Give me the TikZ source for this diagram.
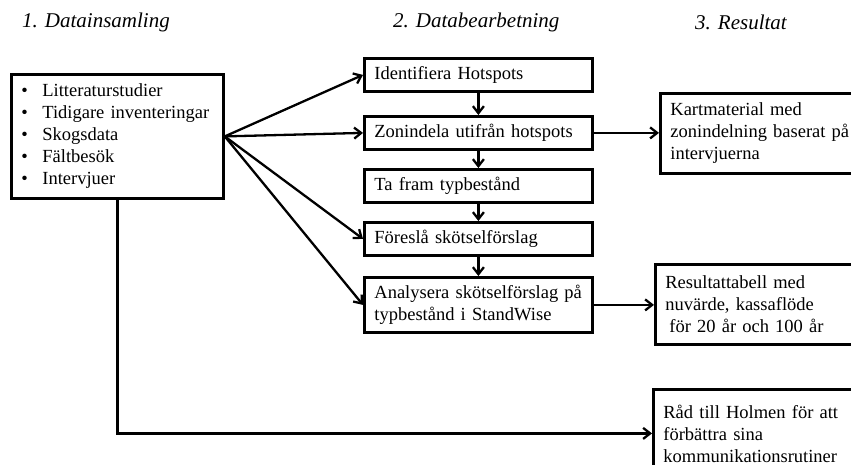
\documentclass[tikz,border=0pt]{standalone}
\usepackage{fontspec}
\setmainfont{Liberation Serif}
\usetikzlibrary{arrows.meta, positioning}
\tikzset{
  fasrubrik/.style = {font=\fontsize{21}{24}\selectfont\itshape, anchor=west, inner sep=0pt},
  fasbox/.style    = {draw, line width=2.8pt, align=left, anchor=north west,
                      font=\fontsize{18.5}{22}\selectfont, inner xsep=10pt, inner ysep=0pt},
  stegbox/.style   = {fasbox, minimum height=33pt, text width=208pt},
  resbox/.style    = {fasbox, minimum height=80pt, text width=200pt},
  pil/.style       = {line width=2.3pt, -{Straight Barb[length=7pt, width=11pt, line width=2.3pt]}},
}
\newcommand{\punkt}[1]{\makebox[23pt][l]{\hspace{2pt}\textbullet}#1}

\begin{document}
\begin{tikzpicture}[x=1pt, y=-1pt]
        \useasboundingbox (0,0) rectangle (851,465);

        % rubriker
        \node[fasrubrik] (rub1) at (22,22) {1. Datainsamling};
        \node[fasrubrik] (rub2) at (393,22) {2. Databearbetning};
        \node[fasrubrik] (rub3) at (695,22) {3. Resultat};

        % datainsamling
        \node[fasbox, minimum width=212pt, minimum height=124pt, text width=196pt, inner xsep=8pt]
             (insamling) at (10,73)
             {\punkt{Litteraturstudier}\\ \punkt{Tidigare inventeringar}\\ \punkt{Skogsdata}\\
              \punkt{Fältbesök}\\ \punkt{Intervjuer}};

        % databearbetning
        \node[stegbox] (hotspots) at (363,57) {Identifiera Hotspots};
        \node[stegbox] (zon) at (363,115) {Zonindela utifrån hotspots};
        \node[stegbox] (typ) at (363,168) {Ta fram typbestånd};
        \node[stegbox] (forslag) at (363,221) {Föreslå skötselförslag};
        \node[stegbox, minimum height=55pt] (analys) at (363,276)
             {Analysera skötselförslag på\\ typbestånd i StandWise};

        % resultat
        \node[resbox] (karta) at (659,92)
             {Kartmaterial med\\ zonindelning baserat på\\ intervjuerna};
        \node[resbox] (tabell) at (654,263)
             {Resultattabell med\\ nuvärde, kassaflöde\\ \hspace{4pt}för 20 år och 100 år};
        \node[resbox, minimum height=88pt] (rad) at (652,388)
             {Råd till Holmen för att\\ förbättra sina\\ kommunikationsrutiner};

        \draw[pil] (insamling.east) -- (hotspots.west);
        \draw[pil] (insamling.east) -- (zon.west);
        \draw[pil] (insamling.east) -- (forslag.west);
        \draw[pil] (insamling.east) -- (analys.west);

        \draw[pil] (hotspots.south) -- (zon.north);
        \draw[pil] (zon.south) -- (typ.north);
        \draw[pil] (typ.south) -- (forslag.north);
        \draw[pil] (forslag.south) -- (analys.north);

        \draw[pil] (zon.east) -- (zon.east -| karta.west);
        \draw[pil] (analys.east) -- (analys.east -| tabell.west);
        \draw[pil] (insamling.south) |- (rad.west);
    \end{tikzpicture}
\end{document}
